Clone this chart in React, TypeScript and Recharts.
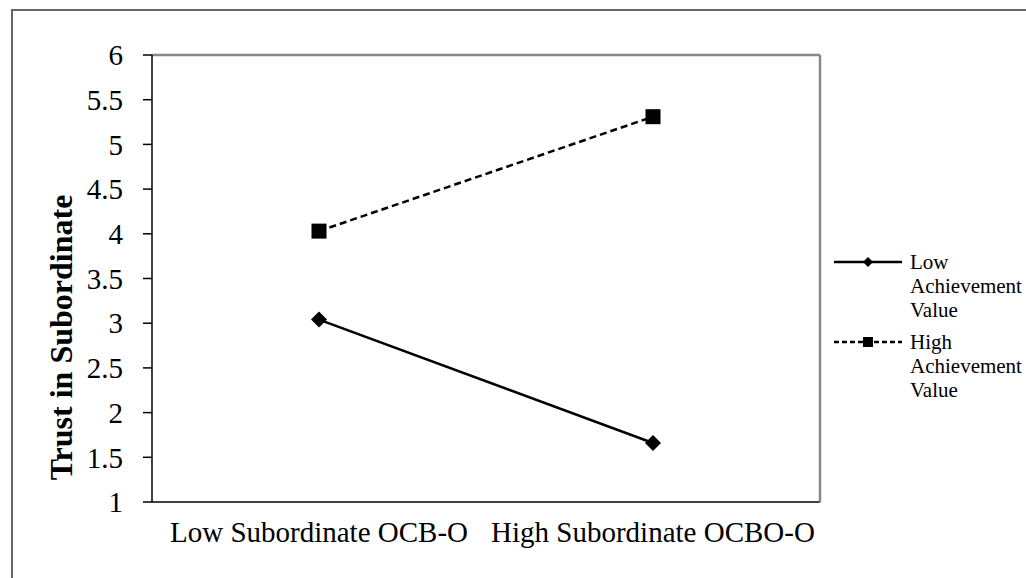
import { LineChart, Line, XAxis, YAxis } from 'recharts'

const categories = ['Low Subordinate OCB-O', 'High Subordinate OCBO-O']
const lowAchievement = [3.04, 1.66]
const highAchievement = [4.03, 5.31]
const yTicks = [1, 1.5, 2, 2.5, 3, 3.5, 4, 4.5, 5, 5.5, 6]
const edgeTicks = [0, 1, 2]
const seriesNames = ['Low Achievement Value', 'High Achievement Value']

const FONT = '"Liberation Serif", "Times New Roman", serif'

const data = categories.map((c, i) => ({ c, low: lowAchievement[i], high: highAchievement[i] }))

function diamondPath(cx: number, cy: number, r: number) {
  return `M${cx},${cy - r}L${cx + r},${cy}L${cx},${cy + r}L${cx - r},${cy}Z`
}

function squarePath(cx: number, cy: number, r: number) {
  return `M${cx - r},${cy - r}H${cx + r}V${cy + r}H${cx - r}Z`
}

function ChartLegend() {
  const items = [
    { name: seriesNames[0], dash: undefined, path: diamondPath(34, 12, 5) },
    { name: seriesNames[1], dash: '5 3', path: squarePath(34, 12, 5) },
  ]
  return (
    <div style={{ position: 'absolute', left: 834, top: 250, width: 192, fontFamily: FONT, fontSize: 21, lineHeight: '24px', color: '#000' }}>
      {items.map((it, i) => (
        <div key={i} style={{ display: 'flex', alignItems: 'flex-start', marginBottom: 8 }}>
          <svg width={76} height={24} style={{ flex: 'none' }}>
            <line x1={0} y1={12} x2={68} y2={12} stroke="#000" strokeWidth={2.5} strokeDasharray={it.dash} />
            <path d={it.path} fill="#000" />
          </svg>
          <div style={{ width: 116 }}>
            {it.name.split(' ').map((w, j) => (
              <div key={j}>{w}</div>
            ))}
          </div>
        </div>
      ))}
    </div>
  )
}

function YTitle(props: any) {
  const vb = props.viewBox
  const x = vb.x + 72
  const y = vb.y + vb.height / 2 + 59
  return (
    <text x={x} y={y} transform={`rotate(-90 ${x} ${y})`} textAnchor="middle" fontFamily={FONT} fontSize={32} fontWeight="bold" fill="#000">
      Trust in Subordinate
    </text>
  )
}

export default function App() {
  return (
    <div style={{ position: 'absolute', left: 0, top: 0, width: 1026, height: 578, overflow: 'hidden', background: '#fff' }}>
      <div style={{ position: 'absolute', left: 11, top: 9, width: 1100, height: 700, border: '2px solid #666' }} />
      <div style={{ position: 'absolute', left: 0, top: 0 }}>
        <LineChart width={1026} height={578} data={data} margin={{ top: 54, right: 205, bottom: 0, left: 0 }}>
          <XAxis xAxisId={0} type="number" domain={[0, 2]} ticks={edgeTicks} tick={false} tickSize={7} height={1} stroke="#000" strokeWidth={1.5} />
          <XAxis xAxisId="cat" dataKey="c" padding={{ left: 167, right: 167 }} axisLine={false} tickLine={false} tickSize={0} tickMargin={18} height={75} tick={{ fontFamily: FONT, fontSize: 29, fill: '#000' }} interval={0} />
          <XAxis xAxisId="top" orientation="top" type="number" domain={[0, 2]} tick={false} tickLine={false} height={1} stroke="#888" strokeWidth={2.5} />
          <YAxis yAxisId="right" orientation="right" domain={[1, 6]} tick={false} tickLine={false} width={1} stroke="#888" strokeWidth={2.5} />
          <YAxis domain={[1, 6]} ticks={yTicks} interval={0} width={152} tickSize={9} tickMargin={20} stroke="#000" strokeWidth={1.5} tick={{ fontFamily: FONT, fontSize: 29, fill: '#000' }} label={{ content: YTitle }} />
          <Line xAxisId="cat" dataKey="low" name={seriesNames[0]} type="linear" stroke="#000" strokeWidth={2.5} isAnimationActive={false}
            dot={(p: any) => <path key={`l${p.index}`} d={diamondPath(p.cx, p.cy, 8)} fill="#000" />} />
          <Line xAxisId="cat" dataKey="high" name={seriesNames[1]} type="linear" stroke="#000" strokeWidth={2.5} strokeDasharray="7 4" isAnimationActive={false}
            dot={(p: any) => <path key={`h${p.index}`} d={squarePath(p.cx, p.cy, 7.5)} fill="#000" />} />
        </LineChart>
      </div>
      <ChartLegend />
    </div>
  )
}
